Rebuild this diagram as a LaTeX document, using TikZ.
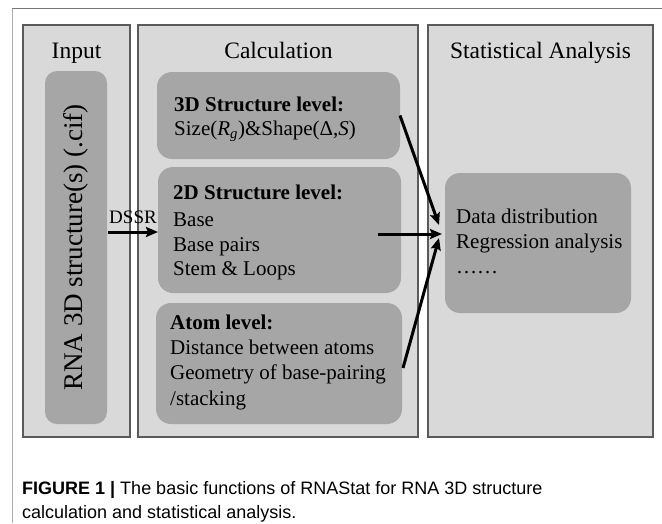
\documentclass[tikz,border=0pt]{standalone}
\usepackage{fontspec}
\setmainfont{Liberation Serif}
\newfontfamily\capfont{Liberation Sans}
\usetikzlibrary{arrows.meta,calc}
\definecolor{panelfill}{HTML}{D9D9D9}
\definecolor{panelline}{HTML}{5A5A5A}
\definecolor{boxfill}{HTML}{A6A6A6}
\definecolor{frametop}{HTML}{777777}
\definecolor{frameleft}{HTML}{ABABAB}
\begin{document}
\begin{tikzpicture}[x=1pt,y=-1pt,
  panel/.style={draw=panelline, fill=panelfill, line width=1.5pt, inner sep=0, outer sep=0, anchor=north west},
  ibox/.style={fill=boxfill, rounded corners=15pt, inner sep=0, outer sep=0, anchor=north west},
  hdr/.style={anchor=base, inner sep=0, font=\fontsize{23.5}{28}\selectfont},
  txt/.style={anchor=base west, inner sep=0, font=\fontsize{21}{25}\selectfont},
  arr/.style={line width=3pt, -{Stealth[length=12pt,width=10pt,inset=2pt]}},
  captxt/.style={anchor=base west, inner sep=0, font=\capfont\fontsize{18}{22}\selectfont},
]
\useasboundingbox (0,0) rectangle (662,523);
\fill[white] (0,0) rectangle (662,523);
% outer frame
\draw[frametop, line width=1.3pt] (12,8.5) -- (662,8.5);
\draw[frameleft, line width=1.5pt] (12.5,8.5) -- (12.5,523);
% panels
\node[panel, minimum width=107, minimum height=412] (pin) at (23,25) {};
\node[panel, minimum width=280, minimum height=412] (pcalc) at (138,25) {};
\node[panel, minimum width=225, minimum height=412] (pstat) at (428,25) {};
% headers
\node[hdr] (hin) at (76.5,58) {Input};
\node[hdr] (hcalc) at (278.5,58) {Calculation};
\node[hdr] (hstat) at (540.5,58) {Statistical Analysis};
% inner boxes
\node[ibox, rounded corners=12pt, minimum width=62, minimum height=353] (inbox) at (45,71) {};
\node[ibox, minimum width=243, minimum height=87] (b3) at (157,72) {};
\node[ibox, minimum width=243, minimum height=126] (b2) at (158,167) {};
\node[ibox, minimum width=246, minimum height=121] (ba) at (156,303) {};
\node[ibox, minimum width=186, minimum height=140] (bd) at (445,173) {};
% input text
\node[rotate=90, inner sep=0, font=\fontsize{27}{30}\selectfont] (rna) at (76,247.5) {RNA 3D structure(s) (.cif)};
% 3D
\node[txt] (t3a) at (174,111) {\textbf{3D Structure level:}};
\node[txt] (t3b) at (174,135) {Size(\textit{R}\textsubscript{\textit{g}})\&Shape(Δ,\textit{S})};
% 2D
\node[txt] (t2a) at (173,199) {\textbf{2D Structure level:}};
\node[txt] (t2b) at (173,226) {Base};
\node[txt] (t2c) at (173,251) {Base pairs};
\node[txt] (t2d) at (173,275) {Stem \& Loops};
% atom
\node[txt] (taa) at (170,329) {\textbf{Atom level:}};
\node[txt] (tab) at (170,354) {Distance between atoms};
\node[txt] (tac) at (170,379) {Geometry of base-pairing};
\node[txt] (tad) at (170,405) {/stacking};
% data
\node[txt] (tda) at (456,223) {Data distribution};
\node[txt] (tdb) at (456,248) {Regression analysis};
\node[txt] (tdc) at (456,273) {……};
% arrows
\draw[arr] ($(inbox.east |- b2.west)+(1,2)$) -- ($(b2.west)+(0,2)$)
  node[midway, anchor=base, yshift=9pt, inner sep=0, font=\fontsize{19}{22}\selectfont] (dssr) {DSSR};
\draw[arr] (b3.east) -- ($(bd.west)+(-6,-18)$);
\draw[arr] ($(b2.east)+(-23,4)$) -- ($(bd.west)+(-3,-9)$);
\draw[arr] ($(ba.east)+(1,4.5)$) -- ($(bd.west)+(-6,-5)$);
% caption
\node[captxt] (cap1) at (22,494) {\textbf{FIGURE 1 |} The basic functions of RNAStat for RNA 3D structure};
\node[captxt] (cap2) at (22,518) {calculation and statistical analysis.};
\end{tikzpicture}
\end{document}
